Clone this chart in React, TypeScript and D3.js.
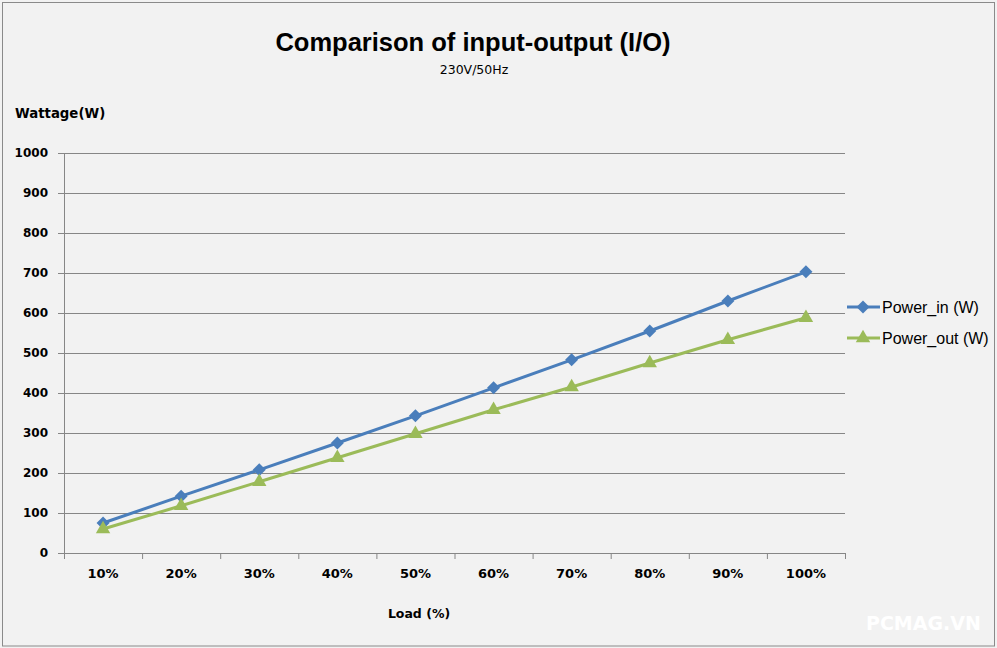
import React from "react";
import * as d3 from "d3";

const categories = ["10%", "20%", "30%", "40%", "50%", "60%", "70%", "80%", "90%", "100%"];
const powerIn = [75, 142, 208, 275, 343, 413, 483, 555, 630, 703];
const powerOut = [60, 118, 178, 238, 298, 358, 415, 475, 533, 588];
const yTicks = [0, 100, 200, 300, 400, 500, 600, 700, 800, 900, 1000];

const W = 997;
const H = 648;
const plot = { left: 64, right: 845, top: 153, bottom: 553 };

export default function App() {
  const x = d3.scaleBand<string>().domain(categories).range([plot.left, plot.right]).padding(0);
  const y = d3.scaleLinear().domain([0, 1000]).range([plot.bottom, plot.top]);
  const cx = (c: string) => (x(c) as number) + x.bandwidth() / 2;
  const line = d3
    .line<number>()
    .x((_, i) => cx(categories[i]))
    .y((d) => y(d));
  const diamond = "M0,-6.5L6.5,0L0,6.5L-6.5,0Z";
  const triangle = d3.symbol().type(d3.symbolTriangle).size(90)();
  const blue = "#4a7ebb";
  const green = "#9bbb59";
  const axisColor = "#868686";
  const font = "'DejaVu Sans', Verdana, sans-serif";
  const arial = "'Liberation Sans', Arial, sans-serif";
  const boundaries = categories.map((c) => x(c) as number).concat([plot.right]);

  return (
    <svg width={W} height={H} style={{ position: "absolute", left: 0, top: 0 }}>
      <rect x={0} y={0} width={W} height={H} fill="#f2f2f2" />
      <rect x={2.5} y={2.5} width={W - 5} height={H - 4.5} fill="none" stroke="#8a8a8a" strokeWidth={1} />
      {yTicks.map((t) => (
        <g key={t}>
          <line
            x1={plot.left}
            x2={plot.right}
            y1={Math.round(y(t)) + 0.5}
            y2={Math.round(y(t)) + 0.5}
            stroke={axisColor}
            strokeWidth={1}
          />
          <line x1={plot.left - 6} x2={plot.left} y1={Math.round(y(t)) + 0.5} y2={Math.round(y(t)) + 0.5} stroke={axisColor} />
          <text
            x={48}
            y={y(t)}
            dy="0.35em"
            textAnchor="end"
            fontFamily={font}
            fontWeight="bold"
            fontSize={12}
            fill="#000"
          >
            {t}
          </text>
        </g>
      ))}
      <line x1={plot.left + 0.5} x2={plot.left + 0.5} y1={plot.top} y2={plot.bottom} stroke={axisColor} />
      {boundaries.map((b, i) => (
        <line key={i} x1={b + 0.5} x2={b + 0.5} y1={plot.bottom} y2={plot.bottom + 6} stroke={axisColor} />
      ))}
      {categories.map((c) => (
        <text
          key={c}
          x={cx(c)}
          y={573}
          dy="0.35em"
          textAnchor="middle"
          fontFamily={font}
          fontWeight="bold"
          fontSize={13}
          fill="#000"
        >
          {c}
        </text>
      ))}
      <path d={line(powerIn) || ""} fill="none" stroke={blue} strokeWidth={3} />
      <path d={line(powerOut) || ""} fill="none" stroke={green} strokeWidth={3} />
      {powerIn.map((v, i) => (
        <path key={"i" + i} d={diamond} transform={`translate(${cx(categories[i])},${y(v)})`} fill={blue} />
      ))}
      {powerOut.map((v, i) => (
        <path key={"o" + i} d={triangle || ""} transform={`translate(${cx(categories[i])},${y(v)})`} fill={green} />
      ))}
      <text x={473} y={51} textAnchor="middle" fontFamily={arial} fontWeight="bold" fontSize={25.5} fill="#000">
        Comparison of input-output (I/O)
      </text>
      <text x={474} y={70} dy="0.35em" textAnchor="middle" fontFamily={font} fontSize={12.5} fill="#000">
        230V/50Hz
      </text>
      <text x={15} y={113} dy="0.35em" fontFamily={font} fontWeight="bold" fontSize={13.3} fill="#000">
        Wattage(W)
      </text>
      <text x={419} y={614} dy="0.35em" textAnchor="middle" fontFamily={font} fontWeight="bold" fontSize={12.5} fill="#000">
        Load (%)
      </text>
      <g>
        <line x1={847} x2={880} y1={307} y2={307} stroke={blue} strokeWidth={3} />
        <path d={diamond} transform="translate(863,307)" fill={blue} />
        <text x={882} y={307} dy="0.35em" fontFamily={arial} fontSize={16} fill="#000">
          Power_in (W)
        </text>
        <line x1={847} x2={880} y1={338} y2={338} stroke={green} strokeWidth={3} />
        <path d={triangle || ""} transform="translate(863,338)" fill={green} />
        <text x={882} y={338} dy="0.35em" fontFamily={arial} fontSize={16} fill="#000">
          Power_out (W)
        </text>
      </g>
      <text x={866} y={630} fontFamily={font} fontWeight="bold" fontSize={19} fill="#ffffff">
        PCMAG.VN
      </text>
    </svg>
  );
}
